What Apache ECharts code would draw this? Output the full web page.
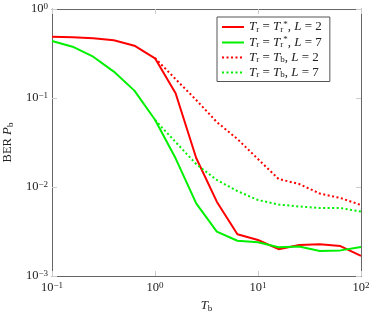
<!DOCTYPE html>
<html><head><meta charset="utf-8">
<script src="https://cdn.jsdelivr.net/npm/echarts@6/dist/echarts.min.js"></script>
<style>html,body{margin:0;padding:0;background:#fff}#c{width:374px;height:313px}</style>
</head><body><div id="c"></div>
<script>
const tb = [0.1, 0.1585, 0.2512, 0.3981, 0.631, 1, 1.585, 2.512, 3.981, 6.31, 10, 15.85, 25.12, 39.81, 63.1, 100];
const tbDot = [1, 1.585, 2.512, 3.981, 6.31, 10, 15.85, 25.12, 39.81, 63.1, 100];
const redSolid = [0.489, 0.481, 0.468, 0.445, 0.387, 0.279, 0.113, 0.0212, 0.00684, 0.00294, 0.00254, 0.0020, 0.00223, 0.00227, 0.00217, 0.00168];
const greenSolid = [0.437, 0.377, 0.291, 0.198, 0.121, 0.057, 0.021, 0.00656, 0.00315, 0.00249, 0.0024, 0.0021, 0.00214, 0.00191, 0.00194, 0.00212];
const redDotted = [0.281, 0.163, 0.095, 0.0537, 0.0346, 0.0206, 0.0123, 0.0108, 0.00845, 0.00752, 0.00628];
const greenDotted = [0.0566, 0.032, 0.0181, 0.012, 0.009, 0.00714, 0.00636, 0.00604, 0.00581, 0.00581, 0.0053];
const names = ['s1', 's2', 's3', 's4'];
const legendText = {
  s1: '{i|T}{sub|r} = {i|T}{sub|r}{sup|*}, {i|L} = 2',
  s2: '{i|T}{sub|r} = {i|T}{sub|r}{sup|*}, {i|L} = 7',
  s3: '{i|T}{sub|r} = {i|T}{sub|b}, {i|L} = 2',
  s4: '{i|T}{sub|r} = {i|T}{sub|b}, {i|L} = 7'
};
const F = 'Liberation Serif, DejaVu Serif, serif';
const C = '#222';
const RED = '#ff0000', GREEN = '#00f000';
const rich = {
  i: {fontFamily: F, fontStyle: 'italic', fontSize: 13, color: C},
  sub: {fontFamily: F, fontSize: 9, color: C, verticalAlign: 'bottom', padding: [5, 0, 0, 0]},
  sup: {fontFamily: F, fontSize: 9, color: C, verticalAlign: 'top', padding: [0, 0, 5, 0]},
  n: {fontFamily: F, fontSize: 12.5, color: C}
};
const richLeg = {
  i: {fontFamily: F, fontStyle: 'italic', fontSize: 13, color: C},
  sub: {fontFamily: F, fontSize: 9, color: C, verticalAlign: 'bottom', padding: [5, 0, 0, 0]},
  sup: {fontFamily: F, fontSize: 9, color: C, verticalAlign: 'top', padding: [0, 0, 5, 0]}
};
function zip(xs, ys) { return xs.map((x, k) => [x, ys[k]]); }
function expLabel(v) {
  const e = Math.round(Math.log10(v));
  return '{n|10}{sup|' + (e < 0 ? '\u2212' + (-e) : e) + '}';
}
const axisCommon = {
  type: 'log', logBase: 10,
  axisLine: {show: true, lineStyle: {color: '#666', width: 1}},
  axisTick: {show: true, inside: true, length: 5, lineStyle: {color: '#ccc', width: 1}},
  minorTick: {show: false}, splitLine: {show: false}
};
const chart = echarts.init(document.getElementById('c'), null, {renderer: 'canvas'});
chart.setOption({
  animation: false,
  backgroundColor: '#fff',
  grid: {left: 52, right: 13, top: 9, bottom: 37, containLabel: false, outerBoundsMode: 'none'},
  legend: {
    data: names, orient: 'vertical', left: 217, top: 17,
    backgroundColor: '#fff', borderColor: '#555', borderWidth: 1,
    padding: [3, 8, 2, 4], itemGap: 1.5, itemWidth: 22, itemHeight: 13,
    itemStyle: {opacity: 0},
    formatter: n => legendText[n],
    textStyle: {fontFamily: F, fontSize: 13, color: C, rich: richLeg}
  },
  xAxis: [
    Object.assign({}, axisCommon, {min: 0.1, max: 100, position: 'bottom',
      name: '{i|T}{sub|b}', nameLocation: 'middle', nameGap: 22,
      nameTextStyle: {rich: rich},
      axisLabel: {formatter: expLabel, margin: 5, rich: rich}}),
    Object.assign({}, axisCommon, {min: 0.1, max: 100, position: 'top', axisLabel: {show: false}})
  ],
  yAxis: [
    Object.assign({}, axisCommon, {min: 0.001, max: 1, position: 'left',
      name: '{n|BER }{i|P}{sub|b}', nameLocation: 'middle', nameGap: 27, nameRotate: 90,
      nameTextStyle: {rich: rich},
      axisLabel: {formatter: expLabel, margin: 4, rich: rich}}),
    Object.assign({}, axisCommon, {min: 0.001, max: 1, position: 'right', axisLabel: {show: false}})
  ],
  series: [
    {name: 's1', type: 'line', data: zip(tb, redSolid), symbol: 'none', color: RED,
      lineStyle: {color: RED, width: 2}},
    {name: 's2', type: 'line', data: zip(tb, greenSolid), symbol: 'none', color: GREEN,
      lineStyle: {color: GREEN, width: 2}},
    {name: 's3', type: 'line', data: zip(tbDot, redDotted), symbol: 'none', color: RED,
      lineStyle: {color: RED, width: 2, type: [2, 2.5]}},
    {name: 's4', type: 'line', data: zip(tbDot, greenDotted), symbol: 'none', color: GREEN,
      lineStyle: {color: GREEN, width: 2, type: [2, 2.5]}}
  ]
});
</script></body></html>
